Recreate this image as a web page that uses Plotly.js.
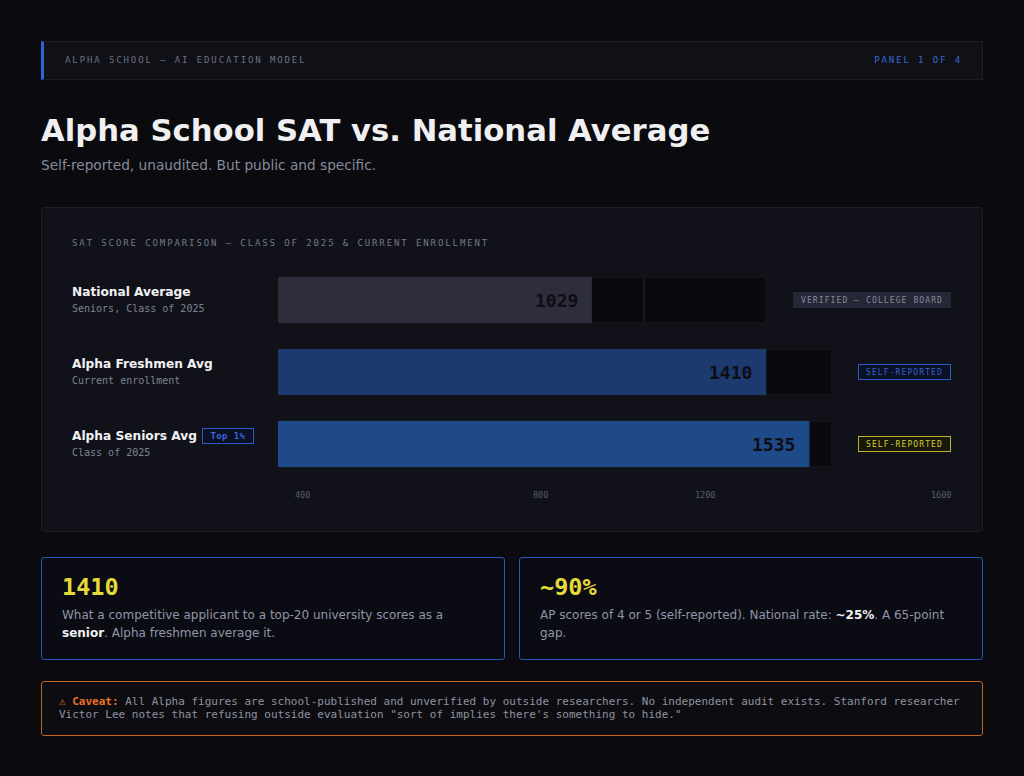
<!DOCTYPE html>
<html>
<head>
<meta charset="utf-8">
<script src="https://cdn.plot.ly/plotly-3.0.1.min.js"></script>
<style>
  html, body { margin: 0; padding: 0; background: #0a0a0f; }
  body { width: 1024px; height: 776px; position: relative; overflow: hidden; font-family: 'DejaVu Sans', sans-serif; }
  #header {
    position: absolute; left: 41px; top: 41px; width: 942px; height: 39px; box-sizing: border-box;
    background: #101117; border: 1px solid #1b1d27; border-left: 3px solid #2f64d6;
    font-family: 'DejaVu Sans Mono', monospace; font-size: 9px; letter-spacing: 1.9px;
  }
  #header .left { position: absolute; left: 21px; top: 13px; color: #6c7282; }
  #header .right { position: absolute; right: 20px; top: 13px; color: #3a68d6; }
  #title { position: absolute; left: 41px; top: 113px; font-size: 30.7px; font-weight: bold; color: #f0f0f2; line-height: 35px; white-space: nowrap; }
  #subtitle { position: absolute; left: 41px; top: 156px; font-size: 13.7px; color: #868b9c; line-height: 18px; }
  #chart { position: absolute; left: 41px; top: 207px; width: 942px; height: 325px; box-sizing: border-box; border: 1px solid #1c1e28; border-radius: 3px; overflow: hidden; }
  .card {
    position: absolute; top: 557px; width: 464px; height: 103px; box-sizing: border-box;
    background: #0b0b14; border: 1px solid #2a55b8; border-radius: 3px; padding: 15px 20px;
  }
  .card .num { font-family: 'DejaVu Sans Mono', monospace; font-weight: bold; font-size: 23.5px; color: #e4da3a; line-height: 28px; }
  .card .txt { margin-top: 5px; font-size: 12px; line-height: 18px; color: #9096a6; }
  .card .txt b { color: #f0f0f2; }
  #caveat {
    position: absolute; left: 41px; top: 681px; width: 942px; height: 55px; box-sizing: border-box;
    background: #0d0c10; border: 1px solid #c4661e; border-radius: 3px; padding: 13px 17px;
    font-family: 'DejaVu Sans Mono', monospace; font-size: 11px; line-height: 13.3px; color: #8e93a2;
  }
  #caveat b { color: #e8702a; }
</style>
</head>
<body>
<div id="header"><span class="left">ALPHA SCHOOL — AI EDUCATION MODEL</span><span class="right">PANEL 1 OF 4</span></div>
<div id="title">Alpha School SAT vs. National Average</div>
<div id="subtitle">Self-reported, unaudited. But public and specific.</div>
<div id="chart"></div>
<div class="card" style="left:41px;">
  <div class="num">1410</div>
  <div class="txt">What a competitive applicant to a top-20 university scores as a <b>senior</b>. Alpha freshmen average it.</div>
</div>
<div class="card" style="left:519px;">
  <div class="num">~90%</div>
  <div class="txt">AP scores of 4 or 5 (self-reported). National rate: <b>~25%</b>. A 65&#8209;point gap.</div>
</div>
<div id="caveat"><b>⚠ Caveat:</b> All Alpha figures are school-published and unverified by outside researchers. No independent audit exists. Stanford researcher Victor Lee notes that refusing outside evaluation "sort of implies there's something to hide."</div>

<script>
// Chart data
const PANEL_TITLE = 'SAT SCORE COMPARISON — CLASS OF 2025 & CURRENT ENROLLMENT';
const ROW_LABELS = ['National Average', 'Alpha Freshmen Avg', 'Alpha Seniors Avg'];
const ROW_SUBLABELS = ['Seniors, Class of 2025', 'Current enrollment', 'Class of 2025'];
const SAT_SCORES = [1029, 1410, 1535];
const SCALE_MAX = 1600;
const BENCHMARK = 1200;   // thin marker on the national track
const BADGES = ['VERIFIED — COLLEGE BOARD', 'SELF-REPORTED', 'SELF-REPORTED'];
const TICK_LABELS = ['400', '800', '1200', '1600'];

// Styles
const W = 940, H = 323;
const BAR_COLORS = ['#2e2d3c', '#1c3a6d', '#1f4a8a'];
const TRACK_COLOR = '#0a0a0e';
const TRACK_LINE = '#191b24';
const BADGE_STYLES = [
  { color: '#858a9a', bg: '#252736', border: '#252736', width: 156 },
  { color: '#3561d4', bg: '#0b1024', border: '#2a58c8', width: 91 },
  { color: '#d4cc3a', bg: '#18180a', border: '#bdb42e', width: 91 }
];
const TRACK_END_PX = [724, 790, 790];   // right edge of each row's track
const TRACK_START_PX = 236;
const TICK_X_PX = [260, 498, 663, 899];
const LABEL_X_PX = 28;
const MONO = 'DejaVu Sans Mono, monospace';
const SANS = 'DejaVu Sans, sans-serif';

const axisName = (i) => (i === 0 ? '' : String(i + 1));

const data = [];
const layout = {
  width: W,
  height: H,
  margin: { l: 0, r: 0, t: 0, b: 0 },
  paper_bgcolor: '#111219',
  plot_bgcolor: 'rgba(0,0,0,0)',
  barmode: 'overlay',
  showlegend: false,
  yaxis: {
    type: 'category',
    categoryorder: 'array',
    categoryarray: ROW_LABELS,
    range: [(H - 92) / 72, -92 / 72],
    visible: false,
    fixedrange: true
  },
  annotations: [],
  shapes: []
};

ROW_LABELS.forEach((label, i) => {
  const xa = 'x' + axisName(i);
  layout['xaxis' + axisName(i)] = {
    domain: [TRACK_START_PX / W, TRACK_END_PX[i] / W],
    range: [0, SCALE_MAX],
    visible: false,
    fixedrange: true
  };

  // dark track
  data.push({
    type: 'bar', orientation: 'h',
    x: [SCALE_MAX], y: [label], xaxis: xa, yaxis: 'y',
    width: 0.64,
    marker: { color: TRACK_COLOR, line: { color: TRACK_LINE, width: 1 }, cornerradius: 2 },
    hoverinfo: 'skip'
  });
  // score bar
  data.push({
    type: 'bar', orientation: 'h',
    x: [SAT_SCORES[i]], y: [label], xaxis: xa, yaxis: 'y',
    width: 0.64,
    marker: { color: BAR_COLORS[i], line: { width: 0 }, cornerradius: 2 },
    hoverinfo: 'x'
  });

  // value at the end of the bar
  layout.annotations.push({
    xref: xa, yref: 'y', x: SAT_SCORES[i], y: label,
    xanchor: 'right', yanchor: 'middle', xshift: -12,
    text: '<b>' + SAT_SCORES[i] + '</b>', showarrow: false,
    font: { family: MONO, size: 18, color: '#0d0d14' }
  });

  // row label + sublabel
  layout.annotations.push({
    xref: 'paper', yref: 'y', x: LABEL_X_PX / W, y: label, yshift: 8,
    xanchor: 'left', yanchor: 'middle', showarrow: false,
    text: '<b>' + label + '</b>',
    font: { family: SANS, size: 12.2, color: '#f2f2f4' }
  });
  layout.annotations.push({
    xref: 'paper', yref: 'y', x: LABEL_X_PX / W, y: label, yshift: -8,
    xanchor: 'left', yanchor: 'middle', showarrow: false,
    text: ROW_SUBLABELS[i],
    font: { family: MONO, size: 10, color: '#7e8392' }
  });

  // source badge
  const bs = BADGE_STYLES[i];
  layout.annotations.push({
    xref: 'paper', yref: 'y', x: 909 / W, y: label, yshift: 0,
    xanchor: 'right', yanchor: 'middle', showarrow: false,
    text: '<span style="letter-spacing:1.1px">' + BADGES[i] + '</span>',
    font: { family: MONO, size: 8, color: bs.color },
    bgcolor: bs.bg, bordercolor: bs.border, borderwidth: 1, borderpad: 0,
    width: bs.width, height: 14, align: 'center'
  });
});

// "Top 1%" tag beside the seniors label
layout.annotations.push({
  xref: 'paper', yref: 'y', x: 160 / W, y: ROW_LABELS[2], yshift: 8,
  xanchor: 'left', yanchor: 'middle', showarrow: false,
  text: '<b><span style="letter-spacing:0.4px">Top 1%</span></b>',
  font: { family: MONO, size: 9, color: '#3a66dc' },
  bgcolor: '#0b1024', bordercolor: '#2a58c8', borderwidth: 1, borderpad: 0,
  width: 50, height: 14
});

// benchmark marker on the national track
layout.shapes.push({
  type: 'line', xref: 'x', yref: 'y', layer: 'above',
  x0: BENCHMARK, x1: BENCHMARK, y0: -0.31, y1: 0.31,
  line: { color: '#252733', width: 1 }
});

// panel title
layout.annotations.push({
  xref: 'paper', yref: 'paper', x: LABEL_X_PX / W, y: 1 - 35 / H,
  xanchor: 'left', yanchor: 'middle', showarrow: false,
  text: '<span style="letter-spacing:1.9px">' + PANEL_TITLE + '</span>',
  font: { family: MONO, size: 9, color: '#737888' }
});

// scale labels
TICK_LABELS.forEach((t, k) => {
  layout.annotations.push({
    xref: 'paper', yref: 'paper', x: TICK_X_PX[k] / W, y: 1 - 287 / H,
    xanchor: 'center', yanchor: 'middle', showarrow: false,
    text: t, font: { family: MONO, size: 8.5, color: '#575c6c' }
  });
});

Plotly.newPlot('chart', data, layout, { displayModeBar: false, staticPlot: true });
</script>
</body>
</html>
